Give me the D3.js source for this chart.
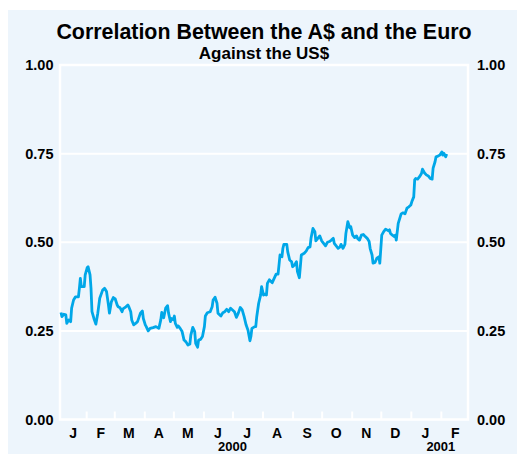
<!DOCTYPE html>
<html>
<head>
<meta charset="utf-8">
<script src="https://cdn.jsdelivr.net/npm/d3@7"></script>
<style>
  body { margin: 0; background: #fff; }
  text { font-family: "Liberation Sans", Arial, Helvetica, sans-serif; font-weight: bold; fill: #000; }
</style>
</head>
<body>
<div id="chart"></div>
<script>
const dates = [
  "2000-01-06","2000-01-07","2000-01-09","2000-01-11","2000-01-12","2000-01-14","2000-01-16","2000-01-17","2000-01-19","2000-01-21",
  "2000-01-24","2000-01-25","2000-01-26","2000-01-27","2000-01-30","2000-01-31","2000-02-02","2000-02-03","2000-02-05","2000-02-06",
  "2000-02-07","2000-02-09","2000-02-11","2000-02-13","2000-02-15","2000-02-18","2000-02-20","2000-02-22","2000-02-24","2000-02-25",
  "2000-02-27","2000-02-29","2000-03-02","2000-03-04","2000-03-05","2000-03-07","2000-03-09","2000-03-10","2000-03-13","2000-03-15",
  "2000-03-16","2000-03-18","2000-03-19","2000-03-21","2000-03-23","2000-03-25","2000-03-28","2000-03-30","2000-03-31","2000-04-02",
  "2000-04-03","2000-04-05","2000-04-07","2000-04-10","2000-04-13","2000-04-16","2000-04-18","2000-04-19","2000-04-21","2000-04-23",
  "2000-04-25","2000-04-26","2000-04-28","2000-04-29","2000-05-01","2000-05-02","2000-05-03","2000-05-05","2000-05-06","2000-05-08",
  "2000-05-10","2000-05-12","2000-05-14","2000-05-16","2000-05-18","2000-05-19","2000-05-21","2000-05-23","2000-05-24","2000-05-26",
  "2000-05-27","2000-05-29","2000-05-31","2000-06-02","2000-06-03","2000-06-05","2000-06-08","2000-06-10","2000-06-11","2000-06-13",
  "2000-06-15","2000-06-16","2000-06-19","2000-06-21","2000-06-23","2000-06-25","2000-06-27","2000-06-29","2000-07-01","2000-07-03",
  "2000-07-05","2000-07-07","2000-07-09","2000-07-11","2000-07-13","2000-07-15","2000-07-17","2000-07-19","2000-07-20","2000-07-21",
  "2000-07-24","2000-07-25","2000-07-26","2000-07-28","2000-07-30","2000-07-31","2000-08-02","2000-08-04","2000-08-05","2000-08-06",
  "2000-08-08","2000-08-11","2000-08-13","2000-08-15","2000-08-17","2000-08-18","2000-08-19","2000-08-21","2000-08-22","2000-08-23",
  "2000-08-26","2000-08-27","2000-08-29","2000-08-31","2000-09-01","2000-09-03","2000-09-05","2000-09-06","2000-09-08","2000-09-09",
  "2000-09-10","2000-09-13","2000-09-15","2000-09-17","2000-09-19","2000-09-20","2000-09-22","2000-09-24","2000-09-25","2000-09-27",
  "2000-09-29","2000-10-01","2000-10-03","2000-10-05","2000-10-07","2000-10-09","2000-10-11","2000-10-13","2000-10-14","2000-10-16",
  "2000-10-18","2000-10-20","2000-10-21","2000-10-23","2000-10-25","2000-10-26","2000-10-28","2000-10-30","2000-10-31","2000-11-02",
  "2000-11-04","2000-11-06","2000-11-07","2000-11-09","2000-11-11","2000-11-13","2000-11-15","2000-11-17","2000-11-19","2000-11-20",
  "2000-11-22","2000-11-23","2000-11-25","2000-11-27","2000-11-29","2000-11-30","2000-12-02","2000-12-04","2000-12-06","2000-12-09",
  "2000-12-10","2000-12-11","2000-12-13","2000-12-15","2000-12-16","2000-12-17","2000-12-19","2000-12-22","2000-12-24","2000-12-26",
  "2000-12-28","2000-12-30","2001-01-01","2001-01-02","2001-01-04","2001-01-05","2001-01-06","2001-01-08","2001-01-10","2001-01-12",
  "2001-01-13","2001-01-15","2001-01-17","2001-01-19","2001-01-21","2001-01-23","2001-01-24","2001-01-26","2001-01-27","2001-01-29",
  "2001-01-31","2001-02-02","2001-02-03","2001-02-04","2001-02-06","2001-02-07"
]
const correlation = [
  0.302,0.290,0.297,0.295,0.271,0.281,0.276,0.314,0.337,0.346,
  0.346,0.370,0.398,0.375,0.375,0.408,0.428,0.431,0.408,0.370,
  0.304,0.285,0.269,0.300,0.342,0.365,0.370,0.361,0.323,0.300,
  0.332,0.344,0.340,0.323,0.318,0.315,0.304,0.312,0.318,0.323,
  0.318,0.304,0.281,0.267,0.271,0.276,0.300,0.306,0.285,0.267,
  0.262,0.250,0.257,0.259,0.262,0.257,0.281,0.302,0.287,0.314,
  0.321,0.300,0.276,0.285,0.281,0.292,0.271,0.260,0.264,0.257,
  0.248,0.224,0.219,0.210,0.213,0.238,0.260,0.248,0.215,0.204,
  0.224,0.226,0.234,0.262,0.292,0.301,0.304,0.318,0.337,0.345,
  0.328,0.300,0.292,0.301,0.304,0.311,0.304,0.314,0.309,0.304,
  0.288,0.300,0.316,0.309,0.290,0.267,0.252,0.222,0.234,0.257,
  0.262,0.262,0.290,0.328,0.351,0.375,0.351,0.354,0.351,0.384,
  0.394,0.386,0.398,0.410,0.410,0.436,0.464,0.459,0.483,0.494,
  0.494,0.473,0.450,0.445,0.431,0.436,0.445,0.417,0.400,0.431,
  0.464,0.469,0.475,0.485,0.487,0.511,0.539,0.530,0.504,0.511,
  0.518,0.504,0.497,0.490,0.500,0.502,0.506,0.511,0.497,0.490,
  0.483,0.487,0.494,0.483,0.494,0.525,0.558,0.541,0.544,0.520,
  0.513,0.518,0.511,0.506,0.520,0.522,0.516,0.511,0.502,0.483,
  0.464,0.441,0.443,0.455,0.459,0.441,0.520,0.530,0.537,0.532,
  0.535,0.525,0.520,0.516,0.520,0.506,0.553,0.580,0.583,0.580,
  0.596,0.600,0.605,0.614,0.628,0.676,0.680,0.678,0.685,0.694,
  0.706,0.696,0.690,0.687,0.680,0.678,0.709,0.727,0.741,0.743,
  0.746,0.755,0.746,0.751,0.741,0.749
]
const monthLabels = ["J","F","M","A","M","J","J","A","S","O","N","D","J","F"]
const yearLabels = [["2000-07-01", "2000"], ["2001-02-01", "2001"]]
const yTicks = [0, 0.25, 0.5, 0.75, 1]

const width = 517, height = 454
const margin = {top: 65, right: 49, bottom: 34.5, left: 60}
const lineColor = "#00a7e8"
const bgColor = "#edf5fc"

const parse = d3.timeParse("%Y-%m-%d")
const data = dates.map((d, i) => ({date: parse(d), value: correlation[i]}))

const svg = d3.select("#chart").append("svg")
    .attr("width", width)
    .attr("height", height)

svg.append("rect")
    .attr("x", 8).attr("y", 10)
    .attr("width", width - 8).attr("height", height - 10)
    .attr("fill", bgColor)

const x = d3.scaleTime()
    .domain([parse("2000-01-05"), parse("2001-03-01")])
    .range([margin.left, width - margin.right])

const y = d3.scaleLinear()
    .domain([0, 1])
    .range([height - margin.bottom, margin.top])

// horizontal gridlines
svg.append("g").selectAll("line")
    .data(yTicks.slice(1, -1))
    .join("line")
    .attr("x1", x.range()[0]).attr("x2", x.range()[1])
    .attr("y1", d => y(d)).attr("y2", d => y(d))
    .attr("stroke", "#fff").attr("stroke-width", 2)

// frame
svg.append("rect")
    .attr("x", x.range()[0]).attr("y", y(1))
    .attr("width", x.range()[1] - x.range()[0])
    .attr("height", y(0) - y(1))
    .attr("fill", "none").attr("stroke", "#fff").attr("stroke-width", 2.5)

// month ticks (inside, from the bottom)
const monthStarts = d3.timeMonth.range(parse("2000-02-01"), parse("2001-02-02"))
const xAxis = d3.axisBottom(x)
    .tickValues(monthStarts)
    .tickSizeInner(-8).tickSizeOuter(0)
    .tickFormat("")
const gx = svg.append("g")
    .attr("transform", `translate(0,${y(0)})`)
    .call(xAxis)
gx.select(".domain").remove()
gx.selectAll(".tick line").attr("stroke", "#fff").attr("stroke-width", 2)

// month letters centred in each month
const monthMids = d3.timeMonth.range(parse("2000-01-01"), parse("2001-03-01"))
    .map(d => new Date(d.getFullYear(), d.getMonth(), 16))
svg.append("g").selectAll("text")
    .data(monthMids)
    .join("text")
    .attr("x", (d, i) => i === 0 ? (x.range()[0] + x(parse("2000-02-01"))) / 2 : x(d))
    .attr("y", 437.5)
    .attr("text-anchor", "middle")
    .style("font-size", "14px")
    .text((d, i) => monthLabels[i])

svg.append("g").selectAll("text")
    .data(yearLabels)
    .join("text")
    .attr("x", d => x(parse(d[0])))
    .attr("y", 450.5)
    .attr("text-anchor", "middle")
    .style("font-size", "13px")
    .text(d => d[1])

// y labels both sides
const fmt = d3.format(".2f")
svg.append("g").selectAll("text")
    .data(yTicks)
    .join("text")
    .attr("x", x.range()[0] - 6.5)
    .attr("y", d => y(d))
    .attr("dy", "0.36em")
    .attr("text-anchor", "end")
    .style("font-size", "14.5px")
    .text(fmt)
svg.append("g").selectAll("text")
    .data(yTicks)
    .join("text")
    .attr("x", x.range()[1] + 9)
    .attr("y", d => y(d))
    .attr("dy", "0.36em")
    .attr("text-anchor", "start")
    .style("font-size", "14.5px")
    .text(fmt)

// the series
const line = d3.line()
    .x(d => x(d.date))
    .y(d => y(d.value))
svg.append("path")
    .datum(data)
    .attr("fill", "none")
    .attr("stroke", lineColor)
    .attr("stroke-width", 2.8)
    .attr("stroke-linejoin", "round")
    .attr("d", line)

// titles
const cx = (x.range()[0] + x.range()[1]) / 2
svg.append("text")
    .attr("x", cx).attr("y", 38.5)
    .attr("text-anchor", "middle")
    .style("font-size", "21.4px")
    .text("Correlation Between the A$ and the Euro")
svg.append("text")
    .attr("x", cx).attr("y", 58.5)
    .attr("text-anchor", "middle")
    .style("font-size", "17px")
    .text("Against the US$")
</script>
</body>
</html>
